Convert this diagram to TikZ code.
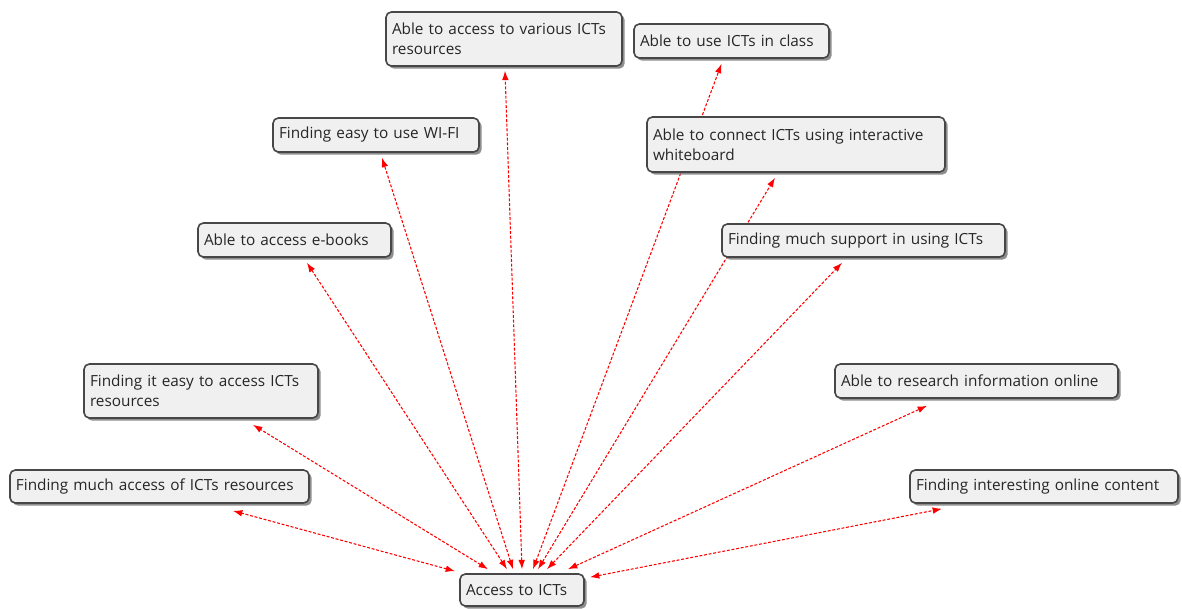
\documentclass[tikz,border=0pt]{standalone}
\usepackage{fontspec}
\setmainfont{Open Sans}
\usetikzlibrary{arrows.meta,shadows,calc}
\pgfdeclarelayer{bg}
\pgfsetlayers{bg,main}
\tikzset{
  box/.style={draw=black!72, line width=1.2pt, rounded corners=4pt, fill=black!6,
    align=left, inner xsep=4.5pt, inner ysep=0pt,
    font=\fontsize{11.5}{15}\selectfont, text=black!85,
    drop shadow={shadow xshift=2pt, shadow yshift=-2pt, fill=black!55, opacity=0.8}},
  bw/.code={\pgfmathsetmacro\boxtw{(#1-12)*0.75}\pgfmathsetmacro\boxmw{#1*0.75}%
    \pgfkeysalso{/tikz/text width=\boxtw pt, /tikz/minimum width=\boxmw pt}},
  bh/.code={\pgfmathsetmacro\boxmh{#1*0.75}\pgfkeysalso{/tikz/minimum height=\boxmh pt}},
  conn/.style={red, line width=0.8pt, dash pattern=on 2.2pt off 1.3pt,
    {Latex[length=7pt,width=5pt]}-{Latex[length=7pt,width=5pt]}}
}
\begin{document}
\begin{tikzpicture}[x=0.75pt,y=-0.75pt]
\useasboundingbox (0,0) rectangle (1182,608);
\node[box,bw=236,bh=54] (n1) at (504,39) {Able to access to various ICTs\\resources};
\node[box,bw=195,bh=34] (n2) at (731.5,41) {Able to use ICTs in class};
\node[box,bw=206,bh=34] (n3) at (376,135) {Finding easy to use WI-FI};
\node[box,bw=298,bh=55] (n4) at (796,144.5) {Able to connect ICTs using interactive\\whiteboard};
\node[box,bw=193,bh=34] (n5) at (294.5,240) {Able to access e-books};
\node[box,bw=283,bh=33] (n6) at (863.5,240.5) {Finding much support in using ICTs};
\node[box,bw=234,bh=54] (n7) at (201,391) {Finding it easy to access ICTs\\resources};
\node[box,bw=283,bh=34] (n8) at (976.5,381) {Able to research information online};
\node[box,bw=299,bh=33] (n9) at (159.5,486.5) {Finding much access of ICTs resources};
\node[box,bw=268,bh=33] (n10) at (1044,486.5) {Finding interesting online content};
\node[box,bw=124,bh=32] (acc) at (522,590) {Access to ICTs};
\begin{pgfonlayer}{bg}
\fill[white] (0,0) rectangle (1182,608);
\draw[conn] ($(acc.north)+(-67,-2)$) -- ($(n9.south)+(73.5,7)$);
\draw[conn] ($(acc.north)+(-34,-4)$) -- ($(n7.south)+(52,6)$);
\draw[conn] ($(acc.north)+(-15,-4)$) -- ($(n5.south)+(12.5,5)$);
\draw[conn] ($(acc.north)+(-9,-4)$) -- ($(n3.south)+(6,5)$);
\draw[conn] ($(acc.north)+(0,-4)$) -- ($(n1.south)+(1,4)$);
\draw[conn] ($(acc.north)+(11,-4)$) -- ($(n2.south)+(-10,5)$);
\draw[conn] ($(acc.north)+(16,-4)$) -- ($(n4.south)+(-21,5)$);
\draw[conn] ($(acc.north)+(25,-4)$) -- ($(n6.south)+(-21.5,5)$);
\draw[conn] ($(acc.north)+(46,-4)$) -- ($(n8.south)+(-49.5,7)$);
\draw[conn] ($(acc.north)+(68,4)$) -- ($(n10.south)+(-102,5)$);
\end{pgfonlayer}
\end{tikzpicture}
\end{document}
